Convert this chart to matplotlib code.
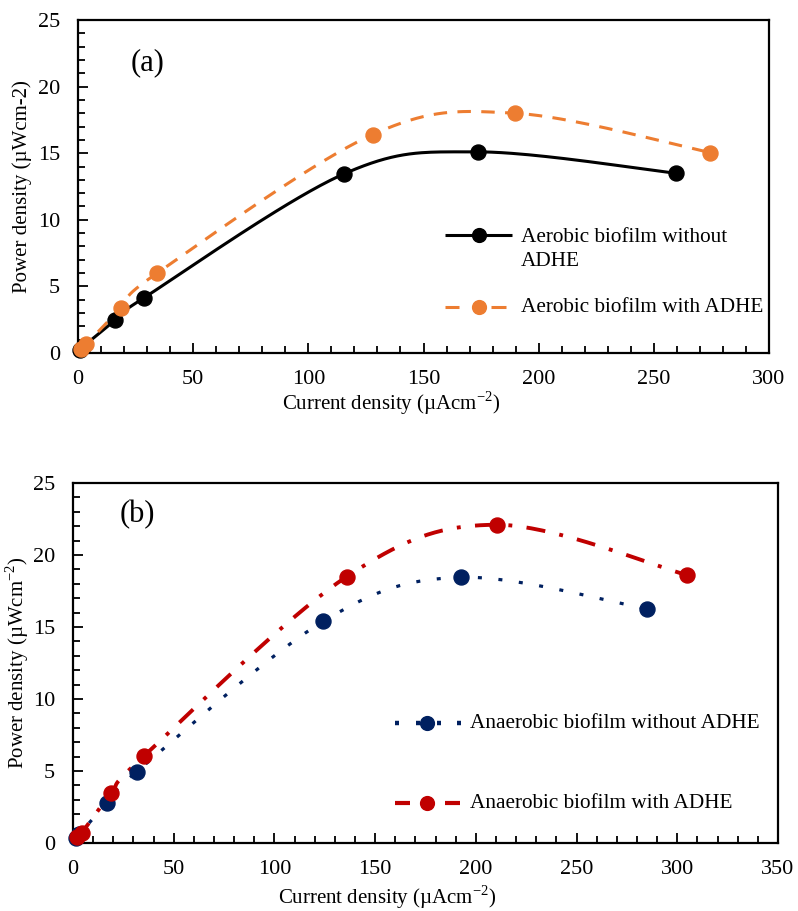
import numpy as np
import matplotlib
matplotlib.use("Agg")
import matplotlib.pyplot as plt
from matplotlib.ticker import MultipleLocator

plt.rcParams['font.family'] = ['Liberation Serif', 'DejaVu Serif']
plt.rcParams['mathtext.fontset'] = 'custom'
plt.rcParams['mathtext.rm'] = 'Liberation Serif'

# Panel (a): aerobic biofilm
aer_no_x = [1.0, 2.0, 16.1, 28.7, 115.5, 173.5, 259.5]
aer_no_y = [0.25, 0.45, 2.45, 4.15, 13.45, 15.1, 13.5]
aer_adhe_x = [1.5, 3.5, 18.5, 34.4, 127.9, 189.8, 274.4]
aer_adhe_y = [0.3, 0.65, 3.35, 6.0, 16.4, 18.0, 15.05]

# Panel (b): anaerobic biofilm
ana_no_x = [1.5, 3.0, 16.7, 31.6, 124.3, 192.5, 285.2]
ana_no_y = [0.33, 0.6, 2.75, 4.95, 15.4, 18.45, 16.25]
ana_adhe_x = [2.0, 4.3, 18.9, 35.3, 135.9, 210.4, 305.0]
ana_adhe_y = [0.4, 0.7, 3.45, 6.05, 18.5, 22.1, 18.6]

ORANGE = '#ED7D31'
NAVY = '#002060'
RED = '#C00000'

W, H = 798, 911
fig = plt.figure(figsize=(W / 100, H / 100), dpi=100)

TICK_FS = 16
LABEL_FS = 15
LEG_FS = 15.3
PANEL_FS = 22
MS = 10.8


def px_axes(l, t, r, b):
    return fig.add_axes([l / W, 1 - b / H, (r - l) / W, (b - t) / H])


def smooth(ax, x, y, n=40):
    """Bezier smoothing (Catmull-Rom style) computed in display space."""
    pts = ax.transData.transform(np.column_stack([x, y]))
    out = [pts[0]]
    m = len(pts)
    for i in range(m - 1):
        p0 = pts[i - 1] if i > 0 else pts[i]
        p1 = pts[i]
        p2 = pts[i + 1]
        p3 = pts[i + 2] if i + 2 < m else pts[i + 1]
        c1 = p1 + (p2 - p0) / 6.0
        c2 = p2 - (p3 - p1) / 6.0
        t = np.linspace(0, 1, n)[1:, None]
        seg = ((1 - t) ** 3) * p1 + 3 * ((1 - t) ** 2) * t * c1 + 3 * (1 - t) * t ** 2 * c2 + t ** 3 * p2
        out.extend(seg)
    out = np.array(out)
    d = ax.transData.inverted().transform(out)
    return d[:, 0], d[:, 1]


def style_axes(ax, xmax, xmajor):
    ax.set_xlim(0, xmax)
    ax.set_ylim(0, 25)
    ax.xaxis.set_major_locator(MultipleLocator(xmajor))
    ax.xaxis.set_minor_locator(MultipleLocator(10))
    ax.yaxis.set_major_locator(MultipleLocator(5))
    ax.yaxis.set_minor_locator(MultipleLocator(1))
    ax.tick_params(which='both', direction='in', top=False, right=False,
                   labelsize=TICK_FS, width=1.3)
    ax.tick_params(axis='x', which='both', pad=12)
    ax.tick_params(axis='y', which='both', pad=13)
    ax.tick_params(which='major', length=7)
    ax.tick_params(which='minor', length=5)
    for s in ax.spines.values():
        s.set_linewidth(1.6)


def draw_series(ax, x, y, color, lw, dashes=None):
    sx, sy = smooth(ax, x, y)
    line, = ax.plot(sx, sy, color=color, lw=lw, solid_capstyle='round',
                    dash_capstyle='butt', zorder=2)
    if dashes is not None:
        line.set_dashes(dashes)
    ax.plot(x, y, 'o', color=color, ms=MS, zorder=3, clip_on=False)


def fig_to_data(ax, xp, yp):
    return ax.transData.inverted().transform(fig.transFigure.transform((xp / W, 1 - yp / H)))


def legend_handle(ax, segments, marker_x, y, color, lw):
    for x0, x1 in segments:
        p0 = fig_to_data(ax, x0, y)
        p1 = fig_to_data(ax, x1, y)
        ax.plot([p0[0], p1[0]], [p0[1], p1[1]], color=color, lw=lw,
                solid_capstyle='butt', clip_on=False)
    pm = fig_to_data(ax, marker_x, y)
    ax.plot([pm[0]], [pm[1]], 'o', color=color, ms=MS * 0.92, clip_on=False)


# ---------------- panel (a) ----------------
axa = px_axes(78, 20, 769, 353)
style_axes(axa, 300, 50)
draw_series(axa, aer_no_x, aer_no_y, 'black', 2.2)
draw_series(axa, aer_adhe_x, aer_adhe_y, ORANGE, 2.2, dashes=(4.4, 3.4))
axa.set_xlabel('Current density (µAcm$^{-2}$)', fontsize=LABEL_FS)
axa.set_ylabel('Power density (µWcm-2)', fontsize=LABEL_FS, labelpad=4)
axa.text(23, 21.8, '(a)', fontsize=PANEL_FS, va='center', ha='left')

legend_handle(axa, [(445, 512)], 479, 235, 'black', 2.2)
legend_handle(axa, [(445, 459), (491, 506)], 479, 307, ORANGE, 2.2)
fig.text(521 / W, 1 - 237 / H, 'Aerobic biofilm without', fontsize=LEG_FS, va='center')
fig.text(521 / W, 1 - 261 / H, 'ADHE', fontsize=LEG_FS, va='center')
fig.text(521 / W, 1 - 308 / H, 'Aerobic biofilm with ADHE', fontsize=LEG_FS, va='center')

# ---------------- panel (b) ----------------
axb = px_axes(73, 483, 778, 843)
style_axes(axb, 350, 50)
draw_series(axb, ana_no_x, ana_no_y, NAVY, 2.3, dashes=(1.25, 5.2))
draw_series(axb, ana_adhe_x, ana_adhe_y, RED, 2.8, dashes=(4.9, 3.7, 1.0, 3.7))
axb.set_xlabel('Current density (µAcm$^{-2}$)', fontsize=LABEL_FS)
axb.set_ylabel('Power density (µWcm$^{-2}$)', fontsize=LABEL_FS, labelpad=1)
axb.text(23, 22.8, '(b)', fontsize=PANEL_FS, va='center', ha='left')

legend_handle(axb, [(395, 399), (416, 420), (437, 441), (457, 461)], 427, 723, NAVY, 3.2)
legend_handle(axb, [(395, 410), (445, 460)], 427, 803, RED, 3.0)
fig.text(470 / W, 1 - 724 / H, 'Anaerobic biofilm without ADHE', fontsize=LEG_FS, va='center')
fig.text(470 / W, 1 - 804 / H, 'Anaerobic biofilm with ADHE', fontsize=LEG_FS, va='center')

# x-axis titles sit slightly left of the axes centre, just under the tick labels
fig.canvas.draw()
for ax, xc, yc in ((axa, 391, 403), (axb, 387, 897)):
    ax.xaxis.set_label_coords(*ax.transAxes.inverted().transform(
        fig.transFigure.transform((xc / W, 1 - yc / H))))
    ax.xaxis.label.set_va('center')

fig.savefig('out.png', dpi=100)
